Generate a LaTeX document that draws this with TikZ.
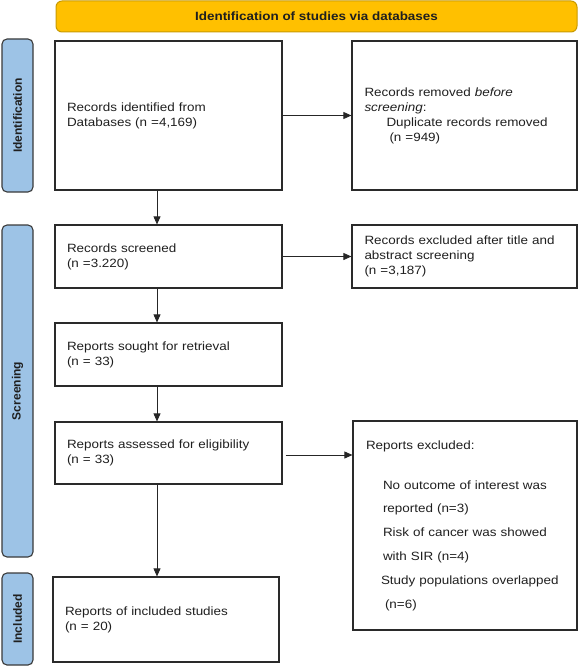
\documentclass[tikz,border=0pt]{standalone}
\usepackage{fontspec}
\setmainfont{Liberation Sans}[FakeStretch=1.12]
\newfontfamily\sidefont{Liberation Sans}
\usetikzlibrary{arrows.meta,positioning,calc}
\definecolor{hdrfill}{HTML}{FFC000}
\definecolor{hdrline}{HTML}{C89A00}
\definecolor{sidefill}{HTML}{9DC3E6}
\definecolor{sideline}{HTML}{3A3A3A}
\definecolor{boxline}{HTML}{2A2A2A}
\begin{document}
\begin{tikzpicture}[x=1pt,y=-1pt,
  every node/.style={font=\fontsize{12}{15}\selectfont, text=black!88},
  flowbox/.style={draw=boxline, line width=1.2pt, rectangle, inner xsep=12pt, inner ysep=0pt, align=left, anchor=center},
  sidebox/.style={draw=sideline, fill=sidefill, line width=1.1pt, rounded corners=5pt, rotate=90, minimum height=31pt, inner sep=0pt, font=\sidefont\fontsize{12}{15}\selectfont\bfseries},
  hdrbox/.style={draw=hdrline, fill=hdrfill, line width=1pt, rounded corners=6pt, minimum width=521pt, minimum height=31pt, inner sep=0pt, font=\fontsize{12}{15}\selectfont\bfseries},
  arr/.style={draw=black!85, line width=0.8pt, -{Triangle[length=8pt,width=7pt]}}
]
\useasboundingbox (0,0) rectangle (581,666);

% header
\node[hdrbox] (hdr) at (316.5,16.5) {Identification of studies via databases};

% side labels
\node[sidebox, minimum width=153pt] (sid) at (17.5,115.5) {Identification};
\node[sidebox, minimum width=332pt] (sscr) at (17.5,391) {Screening};
\node[sidebox, minimum width=92pt] (sinc) at (17.5,619) {Included};

% main column
\node[flowbox, minimum width=227pt, minimum height=149pt, text width=203pt] (b1) at (168.5,115.5)
  {\mbox{Records identified from}\\\mbox{Databases (n =4,169)}};
\node[flowbox, minimum width=227pt, minimum height=63pt, text width=203pt] (b2) at (168.5,256.5)
  {Records screened\\(n =3.220)};
\node[flowbox, minimum width=227pt, minimum height=63pt, text width=203pt] (b3) at (168.5,354.5)
  {\mbox{Reports sought for retrieval}\\(n = 33)};
\node[flowbox, minimum width=227pt, minimum height=62pt, text width=203pt] (b4) at (168.5,453)
  {\mbox{Reports assessed for eligibility}\\(n = 33)};
\node[flowbox, minimum width=226pt, minimum height=85pt, text width=202pt] (b5) at (166,619.5)
  {\mbox{Reports of included studies}\\(n = 20)};

% right column
\node[flowbox, minimum width=225pt, minimum height=149pt, text width=200pt, inner xsep=12.5pt] (r1) at (464.5,115.5)
  {\mbox{Records removed \textit{before}}\\\textit{screening}:\\\hspace*{22pt}\mbox{Duplicate records removed}\\\hspace*{25pt}(n =949)};
\node[flowbox, minimum width=225pt, minimum height=63pt, text width=200pt, inner xsep=12.5pt] (r2) at (464.5,256.5)
  {\mbox{Records excluded after title and}\\\mbox{abstract screening}\\(n =3,187)};
\node[flowbox, minimum width=224pt, minimum height=209pt, text width=198pt, inner xsep=13pt, font=\fontsize{12}{23.8}\selectfont] (r4) at (465,525.5)
  {Reports excluded:\\[16pt]
   \hspace*{17pt}\mbox{No outcome of interest was}\\
   \hspace*{17pt}\mbox{reported (n=3)}\\
   \hspace*{17pt}\mbox{Risk of cancer was showed}\\
   \hspace*{17pt}\mbox{with SIR (n=4)}\\
   \hspace*{15pt}\mbox{Study populations overlapped}\\
   \hspace*{19pt}(n=6)};

% connectors
\coordinate (vx) at (157,0);
\draw[arr] (vx |- b1.south) -- (vx |- b2.north);
\draw[arr] (vx |- b2.south) -- (vx |- b3.north);
\draw[arr] (vx |- b3.south) -- (vx |- b4.north);
\draw[arr] (vx |- b4.south) -- (vx |- b5.north);
\draw[arr] (b1.east) -- (r1.west);
\draw[arr] (b2.east) -- (r2.west);
\coordinate (a4) at ($(b4.east)+(3,2)$);
\draw[arr] (a4) -- (a4 -| r4.west);
\end{tikzpicture}
\end{document}
